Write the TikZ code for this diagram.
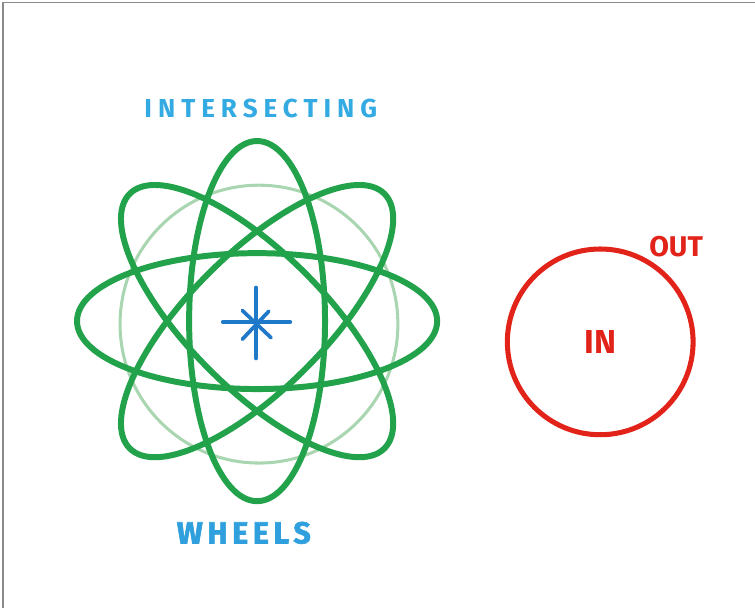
\documentclass[tikz,border=0pt]{standalone}
\usepackage{fontspec}
\setmainfont{Fira Sans}
\newfontfamily\letrasanchas[LetterSpace=23]{Fira Sans}
\newfontfamily\letrasmedias[LetterSpace=15,FakeBold=2]{Fira Sans}
\usepackage{xcolor}
\usepackage{tikz}

\definecolor{verde}{HTML}{22A24A}
\definecolor{verdeclaro}{HTML}{A9D6B1}
\definecolor{azul}{HTML}{1F78C8}
\definecolor{celeste}{HTML}{33AAE2}
\definecolor{rojo}{HTML}{E2231A}
\definecolor{marco}{HTML}{8A8A8A}

\begin{document}
\begin{tikzpicture}[
  rueda/.style={verde, line width=4.5pt},
  rayo/.style={azul, line width=3.4pt, line cap=round},
  letrero/.style={inner sep=0pt, font=\bfseries}
]

\useasboundingbox (0,0) rectangle (20,16.106);
\draw[marco, line width=0.8pt] (0.08,0)--(0.08,16.05)--(20,16.05);

%   ruedas

\coordinate (centro) at (6.81,7.60);
\draw[verdeclaro, line width=2.3pt] (6.86,7.52) circle (3.68);
\foreach \ang in {0,45,90,-45}
  \draw[rueda, rotate around={\ang:(centro)}] (centro) ellipse (4.77 and 1.80);

%   estrella

\coordinate (nucleo) at (6.78,7.58);
\draw[rayo] (nucleo) ++(-0.87,0) -- ++(1.77,0);
\draw[rayo] (nucleo) ++(0,0.90) -- ++(0,-1.86);
\draw[rayo, line width=2.8pt] (nucleo) ++(-0.36,0.30) -- ++(0.76,-0.72);
\draw[rayo, line width=2.8pt] (nucleo) ++(0.34,0.28) -- ++(-0.70,-0.74);

%   circulo

\node[circle, draw=rojo, line width=3.8pt, minimum size=4.92cm, letrero,
      text=rojo, font=\bfseries\fontsize{25}{25}\selectfont] (dentro) at (15.9,7.05) {IN};
\node[letrero, text=rojo, font=\bfseries\fontsize{21.5}{21.5}\selectfont] (fuera) at (17.91,9.56) {OUT};

%   texto

\node[letrero, text=celeste, font=\letrasanchas\bfseries\fontsize{19.6}{20}\selectfont] (titulo) at (6.91,13.22) {INTERSECTING};
\node[letrero, text=celeste!80!azul, font=\letrasmedias\bfseries\fontsize{23}{23}\selectfont] (pie) at (6.46,1.99) {WHEELS};

\end{tikzpicture}
\end{document}
